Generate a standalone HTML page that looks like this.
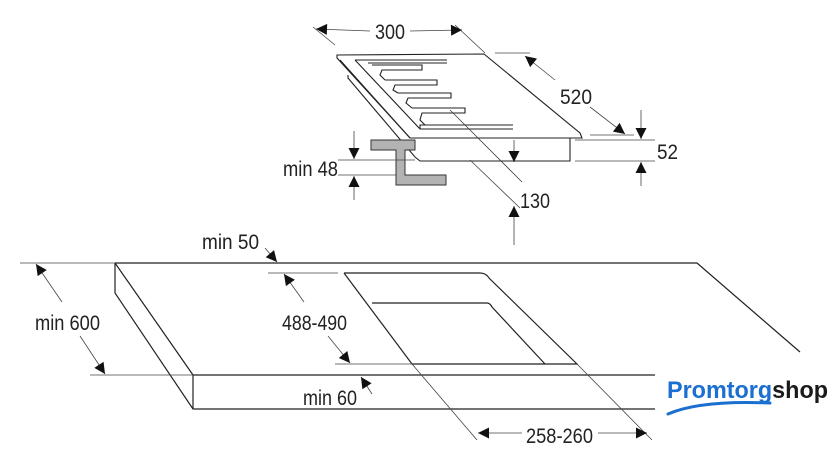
<!DOCTYPE html>
<html><head><meta charset="utf-8"><style>
html,body{margin:0;padding:0;background:#fff}
svg{display:block}
text.d{font-family:"Liberation Sans Narrow","Liberation Sans",sans-serif;font-size:21px;fill:#222}
</style></head><body>
<svg width="840" height="466" viewBox="0 0 840 466" xmlns="http://www.w3.org/2000/svg">
<defs>
<marker id="a" viewBox="0 0 10 10" refX="10" refY="5" markerWidth="13" markerHeight="11" orient="auto-start-reverse" markerUnits="userSpaceOnUse"><path d="M0,0 L10,5 L0,10 z" fill="#111"/></marker>
</defs>
<g fill="none" stroke="#222" stroke-width="1.2">
<path d="M115,263 L697,263 L800,352"/>
<path d="M115,263 L115,293 L193,409 L655,409"/>
<path d="M115,263 L193,375 L655,375"/>
<path d="M193,375 L193,409"/>
<path d="M344,273 L480,273 Q486,273 489,278 L577,364 L412,364"/>
<path d="M344,273 L412,364"/>
<path d="M372,303 L487,303 Q490,303 492,307 L545,364"/>
</g>
<g fill="none" stroke="#444" stroke-width="0.8">
<path d="M20,263 L115,263"/><path d="M90,375 L193,375"/>
<path d="M268,273 L338,273"/><path d="M335,364 L412,364"/>
<path d="M412,364 L477,440"/><path d="M577,364 L652,440"/>
<path d="M62,302 L36,264" marker-end="url(#a)"/>
<path d="M80,336 L105,374" marker-end="url(#a)"/>
<path d="M304,302 L284,274" marker-end="url(#a)"/>
<path d="M328,336 L350,363" marker-end="url(#a)"/>
<path d="M372,394 L361,377" marker-end="url(#a)"/>
<path d="M265,248 L277,262" marker-end="url(#a)"/>
<path d="M522,433 L478,433" marker-end="url(#a)"/>
<path d="M598,433 L647,433" marker-end="url(#a)"/>
</g>
<text class="d" x="35" y="330" textLength="65" lengthAdjust="spacingAndGlyphs">min 600</text>
<text class="d" x="282" y="330" textLength="65" lengthAdjust="spacingAndGlyphs">488-490</text>
<text class="d" x="303" y="405" textLength="54" lengthAdjust="spacingAndGlyphs">min 60</text>
<text class="d" x="202" y="249" textLength="57" lengthAdjust="spacingAndGlyphs">min 50</text>
<text class="d" x="526" y="443" textLength="67" lengthAdjust="spacingAndGlyphs">258-260</text>
<g fill="none" stroke="#222" stroke-width="1.1">
<path d="M337,55 L484,54 L580,133 L582,138 L410,138 L337,58 Z"/>
<path d="M340,60 L410,138"/>
<path d="M348,75 L348,78 L415,157 L420,161 L570,161 L570,138"/>
<path d="M355,60 L447,60 M355,60 L420,129 L513,129 M420,129 L420,125 L513,125"/>
<path d="M368,63 L447,63"/>
<path d="M372,65 L422,65 L422,70 L382,70 L380,75 L385,80"/>
<path d="M385,80 L437,80 L437,85 L395,85 L393,90 L398,93"/>
<path d="M398,93 L451,93 L451,98 L408,98 L406,103 L412,108"/>
<path d="M412,108 L465,108 L465,113 L422,113 L420,120 L425,125"/>
</g>
<path d="M371,140 L415,140 L415,150 L405,150 L405,175 L446,175 L446,185 L396,185 L396,150 L371,150 Z" fill="#b3b3b3" stroke="#333" stroke-width="1"/>
<g fill="none" stroke="#444" stroke-width="0.8">
<path d="M313,27 L335,45"/><path d="M455,25 L485,53"/>
<path d="M370,31 L316,29" marker-end="url(#a)"/><path d="M410,31 L462,30" marker-end="url(#a)"/>
<path d="M495,53 L530,53"/>
<path d="M555,80 L525,56" marker-end="url(#a)"/>
<path d="M590,107 L625,134" marker-end="url(#a)"/>
<path d="M590,135 L634,135"/>
<path d="M575,140 L655,140"/><path d="M575,161 L655,161"/>
<path d="M641,110 L641,139" marker-end="url(#a)"/><path d="M641,186 L641,162" marker-end="url(#a)"/>
<path d="M338,160 L415,160"/><path d="M338,175 L396,175"/>
<path d="M354,131 L354,159" marker-end="url(#a)"/><path d="M354,200 L354,176" marker-end="url(#a)"/>
<path d="M450,110 L522,182"/><path d="M470,160 L520,208"/>
<path d="M514,140 L514,162" marker-end="url(#a)"/><path d="M514,245 L514,206" marker-end="url(#a)"/>
</g>
<text class="d" x="375" y="39" textLength="30" lengthAdjust="spacingAndGlyphs">300</text>
<text class="d" x="560" y="104" textLength="32" lengthAdjust="spacingAndGlyphs">520</text>
<text class="d" x="657" y="159" textLength="21" lengthAdjust="spacingAndGlyphs">52</text>
<text class="d" x="283" y="176" textLength="55" lengthAdjust="spacingAndGlyphs">min 48</text>
<text class="d" x="520" y="208" textLength="30" lengthAdjust="spacingAndGlyphs">130</text>
<text x="667" y="398" textLength="161" lengthAdjust="spacingAndGlyphs" style="font-family:'Liberation Sans',sans-serif;font-size:24px;font-weight:bold;fill:#1a6fd0">Promtorg<tspan style="fill:#1a1a1a">shop</tspan></text>
<path d="M668,414 Q700,400 770,403" fill="none" stroke="#1a6fd0" stroke-width="3" stroke-linecap="round"/>
</svg>
</body></html>
